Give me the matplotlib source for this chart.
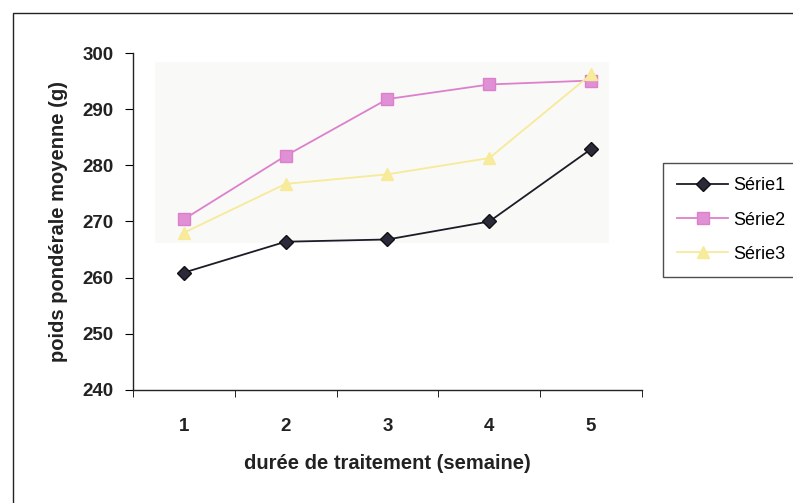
import matplotlib.pyplot as plt
from matplotlib.patches import Rectangle

plt.rcParams['font.family'] = ['Liberation Sans', 'DejaVu Sans']

weeks = [1, 2, 3, 4, 5]
serie1 = [260.9, 266.4, 266.8, 270.0, 282.9]
serie2 = [270.4, 281.7, 291.8, 294.4, 295.1]
serie3 = [268.0, 276.7, 278.4, 281.3, 296.2]
labels = ['Série1', 'Série2', 'Série3']
yticks = [240, 250, 260, 270, 280, 290, 300]

fig = plt.figure(figsize=(7.93, 5.03), dpi=100)
ax = fig.add_axes([0.1677, 0.2247, 0.6419, 0.6699])

# outer frame, running off the right and bottom edges
fig.patches.append(Rectangle((13 / 793, -0.1), 1.2, 1.1 - 13 / 503,
                             transform=fig.transFigure, fill=False,
                             edgecolor='#222222', lw=1.0))

# faint grey plot area
ax.add_patch(Rectangle((0.043, 0.437), 0.892, 0.535, transform=ax.transAxes,
                       facecolor='#f9f9f8', edgecolor='none', zorder=0))

ax.plot(weeks, serie1, color='#1c1c28', lw=1.3, marker='D', ms=7,
        mfc='#2a2a3a', mec='#111111', label=labels[0], zorder=3)
ax.plot(weeks, serie2, color='#dd80cc', lw=1.3, marker='s', ms=8,
        mfc='#e090d4', mec='#dd80cc', label=labels[1], zorder=3)
ax.plot(weeks, serie3, color='#f7ea98', lw=1.3, marker='^', ms=9,
        mfc='#f8ec9c', mec='#f7ea98', label=labels[2], zorder=3)

ax.set_xlim(0.5, 5.5)
ax.set_ylim(240, 300)
ax.set_yticks(yticks)
ax.set_xticks(weeks)
ax.set_xticks([0.5, 1.5, 2.5, 3.5, 4.5, 5.5], minor=True)
ax.tick_params(axis='x', which='major', length=0, pad=20)
ax.tick_params(axis='x', which='minor', length=5, direction='out')
ax.tick_params(axis='y', length=6, direction='out', pad=8)
for t in ax.get_xticklabels() + ax.get_yticklabels():
    t.set_fontsize(13.5)
    t.set_fontweight('bold')
    t.set_color('#222222')

for s in ['top', 'right']:
    ax.spines[s].set_visible(False)
for s in ['left', 'bottom']:
    ax.spines[s].set_color('#222222')
    ax.spines[s].set_linewidth(1.0)

ax.set_xlabel('durée de traitement (semaine)', fontsize=14.5,
              fontweight='bold', labelpad=14, color='#222222')
ax.set_ylabel('poids pondérale moyenne (g)', fontsize=14.5,
              fontweight='bold', labelpad=10, color='#222222')

leg = fig.legend(loc='upper left', bbox_to_anchor=(663 / 793, 1 - 163 / 503),
                 fontsize=13, frameon=True, fancybox=False, handlelength=2.8,
                 borderpad=0.8, labelspacing=0.95, handletextpad=0.3,
                 borderaxespad=0)
leg.get_frame().set_edgecolor('#222222')
leg.get_frame().set_linewidth(1.0)

fig.savefig('out.png', dpi=100)
